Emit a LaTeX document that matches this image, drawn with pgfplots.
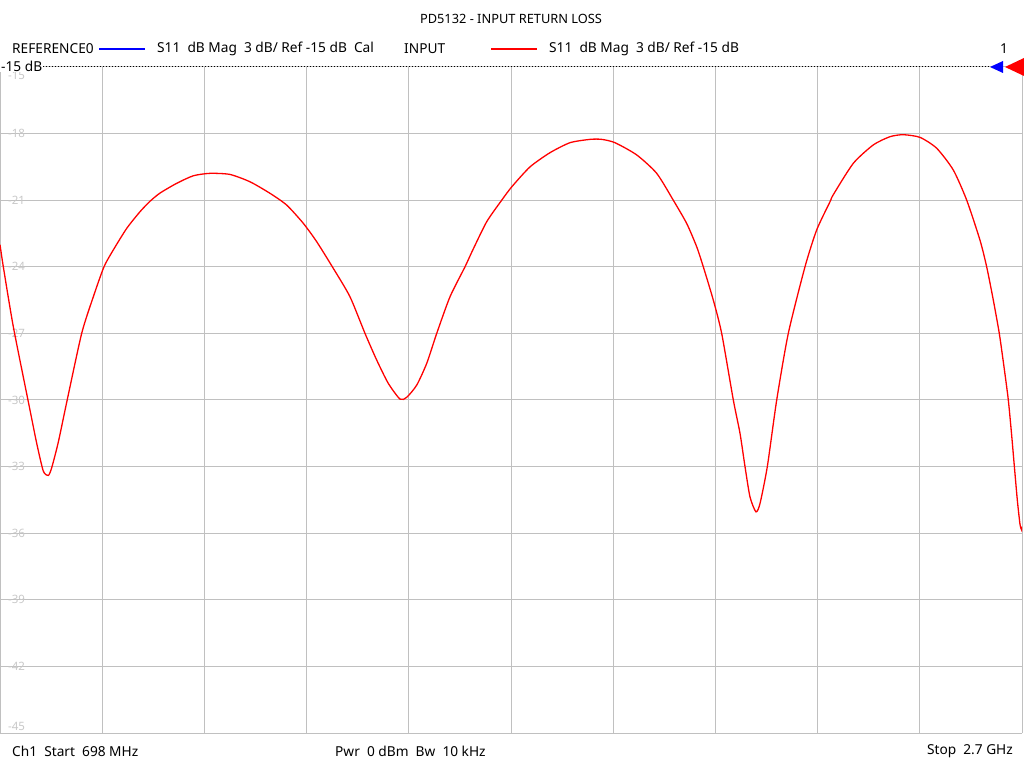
\documentclass[border=0pt]{standalone}
\usepackage{pgfplots}
\pgfplotsset{compat=1.18}
\usepackage{fontspec}
\setmainfont{Noto Sans}

\definecolor{gridgray}{RGB}{192,192,192}
\definecolor{labgray}{RGB}{200,200,200}

\begin{document}
\begin{tikzpicture}[x=1pt,y=1pt]
\useasboundingbox (0,0) rectangle (1024,768);

\begin{axis}[
  at={(0pt,35pt)}, anchor=south west,
  scale only axis, width=1022pt, height=666pt,
  xmin=698, xmax=2700, ymin=-45, ymax=-15,
  xtick={698,898.2,1098.4,1298.6,1498.8,1699,1899.2,2099.4,2299.6,2499.8,2700},
  xticklabels={},
  ytick={-45,-42,...,-15},
  yticklabels={,-42,-39,-36,-33,-30,-27,-24,-21,-18,},
  major tick length=0pt,
  grid=major,
  major grid style={gridgray, line width=1pt},
  axis line style={draw=none},
  yticklabel style={anchor=west, inner sep=0pt, xshift=8pt, text=labgray,
    font=\fontsize{11.5}{13}\selectfont},
  /pgf/number format/assume math mode=true,
  clip=true,
]
\addplot[red, line width=1.3pt, smooth, tension=0.4] coordinates {
(698,-23.0) (704.5,-24.0) (724.1,-26.7) (755.4,-30.3) (769.9,-31.95)
(782.8,-33.2) (792.6,-33.4) (799.3,-33.05) (812.2,-31.9) (828.7,-30.1)
(858.0,-27.0) (880.8,-25.35) (901.7,-24.0) (920.0,-23.24) (946.2,-22.27)
(972.2,-21.52) (991.8,-21.05) (1011.4,-20.68) (1044.1,-20.24) (1076.7,-19.9)
(1109.4,-19.79) (1148.5,-19.84)
(1187.7,-20.17) (1226.9,-20.69) (1259.6,-21.22) (1292.1,-22.04) (1318.4,-22.87)
(1350.9,-24.07) (1383.6,-25.35) (1413.0,-27.0) (1435.9,-28.2) (1458.6,-29.25)
(1481.6,-29.96) (1494.7,-29.88) (1514.3,-29.33) (1533.9,-28.35) (1553.5,-27.0)
(1579.5,-25.35) (1608.9,-24.0) (1624.0,-23.25) (1651.4,-21.97) (1680.8,-21.0)
(1700.4,-20.4) (1736.2,-19.5) (1775.4,-18.86) (1814.6,-18.41) (1853.8,-18.26)
(1876.7,-18.26) (1902.7,-18.41) (1945.2,-18.96) (1984.4,-19.79) (2016.9,-21.0)
(2043.2,-22.05) (2062.8,-23.1) (2075.7,-24.0) (2095.3,-25.5) (2111.7,-27.0)
(2134.5,-30.0) (2147.6,-31.5) (2157.4,-33.0) (2167.2,-34.37) (2178.9,-35.04)
(2186.8,-34.66) (2201.1,-33.0) (2219.5,-30.0) (2242.2,-27.0) (2274.9,-24.0)
(2297.8,-22.34) (2323.9,-21.07) (2330.4,-20.75) (2369.5,-19.34) (2408.7,-18.51)
(2441.4,-18.14) (2467.5,-18.05) (2500.2,-18.17) (2532.9,-18.66) (2565.4,-19.64)
(2591.7,-21.0) (2617.7,-22.8) (2630.8,-24.0) (2643.8,-25.5) (2655.5,-27.0)
(2664.7,-28.5) (2673.2,-30.0) (2679.8,-31.6) (2684.3,-32.8) (2690.8,-34.5)
(2696.1,-35.6) (2699.4,-35.86) (2700,-35.7)
};
\end{axis}

% clamped end tick labels
\node[anchor=south west, inner sep=0pt, text=labgray, font=\fontsize{11.5}{13}\selectfont] at (8,37) {-45};
\node[anchor=north west, inner sep=0pt, text=labgray, font=\fontsize{11.5}{13}\selectfont] at (8,697) {-15};

% reference line
\draw[black, line width=1pt, dash pattern=on 1pt off 2pt] (43,701) -- (990,701);
\node[anchor=west, fill=white, inner sep=1pt, font=\fontsize{13.7}{15}\selectfont] at (0,702) {-15 dB};
\fill[blue] (990,701) -- (1003,707) -- (1003,695) -- cycle;
\fill[red] (1005,701) -- (1024,710) -- (1024,692) -- cycle;

% title and legend row
\node[font=\fontsize{12.8}{14}\selectfont] at (511,749) {PD5132 - INPUT RETURN LOSS};
\begin{scope}[font=\fontsize{13.7}{15}\selectfont]
\node[anchor=west, inner sep=0pt] at (12,719) {REFERENCE0};
\draw[blue, line width=2pt] (99,719) -- (145,719);
\node[anchor=west, inner sep=0pt] at (157,719) {S11\ \ dB Mag\ \ 3 dB/ Ref -15 dB\ \ Cal};
\node[anchor=west, inner sep=0pt] at (404,719) {INPUT};
\draw[red, line width=2pt] (491,719) -- (537,719);
\node[anchor=west, inner sep=0pt] at (549,719) {S11\ \ dB Mag\ \ 3 dB/ Ref -15 dB};
\node[inner sep=0pt] at (1004,719) {1};

% bottom status line
\node[anchor=west, inner sep=0pt] at (12,17) {Ch1\ \ Start\ \ 698 MHz};
\node[anchor=west, inner sep=0pt] at (335,17) {Pwr\ \ 0 dBm\ \ Bw\ \ 10 kHz};
\node[anchor=east, inner sep=0pt] at (1013,17) {Stop\ \ 2.7 GHz};
\end{scope}
\end{tikzpicture}
\end{document}
